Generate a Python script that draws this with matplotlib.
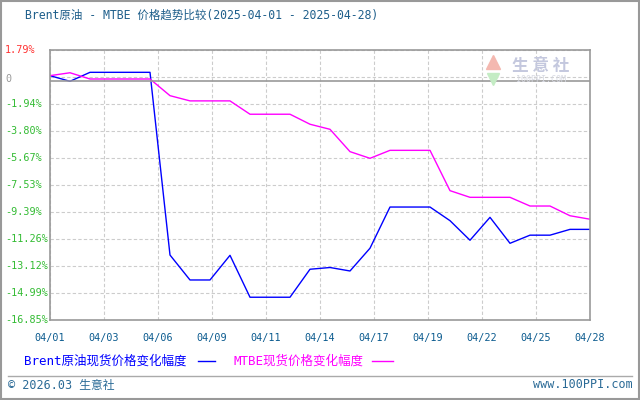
import numpy as np
import matplotlib
matplotlib.use("Agg")
import matplotlib.pyplot as plt
import matplotlib.transforms as mtransforms
from matplotlib.lines import Line2D
from matplotlib.patches import Rectangle

plt.rcParams['font.family'] = ['DejaVu Sans Mono', 'Noto Sans CJK SC']

# data (percent change vs 2025-04-01)
dates = np.arange(np.datetime64('2025-04-01'), np.datetime64('2025-04-29'))
brent = [0, -0.39, 0.23, 0.23, 0.23, 0.23, -12.37, -14.09, -14.09, -12.39,
         -15.28, -15.28, -15.28, -13.35, -13.23, -13.47, -11.9, -9.06, -9.06, -9.06,
         -10.0, -11.35, -9.77, -11.56, -11.0, -11.0, -10.6, -10.6]
mtbe = [0, 0.2, -0.23, -0.23, -0.23, -0.23, -1.38, -1.74, -1.74, -1.74,
        -2.66, -2.66, -2.66, -3.35, -3.7, -5.24, -5.7, -5.15, -5.15, -5.15,
        -7.93, -8.39, -8.39, -8.39, -8.99, -8.99, -9.66, -9.9]
x_labels = ['04/01', '04/03', '04/06', '04/09', '04/11', '04/14',
            '04/17', '04/19', '04/22', '04/25', '04/28']
y_ticks = [1.79, -0.07, -1.94, -3.80, -5.67, -7.53, -9.39, -11.26, -13.12, -14.99, -16.85]
y_labels = ['1.79%', '', '-1.94%', '-3.80%', '-5.67%', '-7.53%', '-9.39%',
            '-11.26%', '-13.12%', '-14.99%', '-16.85%']
zero_line = -0.38

fig = plt.figure(figsize=(6.4, 4), dpi=100)
ax = fig.add_axes([50/640, 80/400, 540/640, 270.3/400])

xnum = (dates - dates[0]).astype(int)
ax.plot(xnum, brent, color='#0000ff', lw=1)
ax.plot(xnum, mtbe, color='#ff00ff', lw=1)

ax.set_xlim(xnum[0], xnum[-1])
ax.set_ylim(y_ticks[-1], y_ticks[0])
ax.set_xticks(np.linspace(xnum[0], xnum[-1], len(x_labels)))
ax.set_xticklabels(x_labels, color='#0b5b8f', fontsize=7.3)
ax.set_yticks(y_ticks)
ax.set_yticklabels([])
ax.tick_params(length=0, pad=9)
ax.grid(True, color='#cccccc', ls=(0, (3, 2)), lw=0.8)
ax.axhline(zero_line, color='#999999', lw=1.2)
for s in ax.spines.values():
    s.set_color('#999999')
    s.set_linewidth(1.2)

# y labels, left aligned at the image edge
tr = mtransforms.blended_transform_factory(fig.transFigure, ax.transData)
for v, lab in zip(y_ticks, y_labels):
    if lab == '':
        continue
    c = '#ff3333' if v > 0 else '#33bb33'
    ax.text(5/640, v, lab, transform=tr, color=c, fontsize=7.3, va='center', ha='left')
ax.text(5/640, zero_line + 0.15, '0', transform=tr, color='#999999', fontsize=7.3, va='center', ha='left')

# watermark
ax.text(0.909, 0.94, '生 意 社', transform=ax.transAxes, color='#c4c8de', fontsize=12,
        ha='center', va='center', family=['Noto Sans CJK SC'], fontweight='bold')
ax.text(0.909, 0.888, '100PPI.COM', transform=ax.transAxes, color='#d8dae4', fontsize=6,
        ha='center', va='center')
ax.plot([0.82], [0.955], marker='^', ms=10, color='#f4b8b0', transform=ax.transAxes)
ax.plot([0.82], [0.89], marker='v', ms=8, color='#c4ecc4', transform=ax.transAxes)

# title
fig.text(25/640, 1 - 15/400, 'Brent原油 - MTBE 价格趋势比较(2025-04-01 - 2025-04-28)',
         color='#1f5f8b', fontsize=8.3, va='center', ha='left')

# legend
ly = 1 - 361/400
fig.text(24/640, ly, 'Brent原油现货价格变化幅度', color='#0000ff', fontsize=9,
         va='center', ha='left')
fig.lines.append(Line2D([198/640, 215/640], [ly] * 2, color='#0000ff', lw=1,
                        transform=fig.transFigure))
fig.text(233/640, ly, 'MTBE现货价格变化幅度', color='#ff00ff', fontsize=9,
         va='center', ha='left')
fig.lines.append(Line2D([372/640, 393/640], [ly] * 2, color='#ff00ff', lw=1,
                        transform=fig.transFigure))

# footer
fig.lines.append(Line2D([8/640, 632/640], [1 - 376/400] * 2, color='#aaaaaa', lw=1,
                        transform=fig.transFigure))
fig.text(8/640, 1 - 385/400, '© 2026.03 生意社', color='#2a6a96', fontsize=8.5,
         va='center', ha='left')
fig.text(633/640, 1 - 385/400, 'www.100PPI.com', color='#2a6a96', fontsize=8.5,
         va='center', ha='right')

fig.patches.append(Rectangle((0.001, 0.002), 0.997, 0.996, transform=fig.transFigure,
                             fill=False, edgecolor='#999999', lw=1.5))

fig.savefig('out.png', dpi=100)
